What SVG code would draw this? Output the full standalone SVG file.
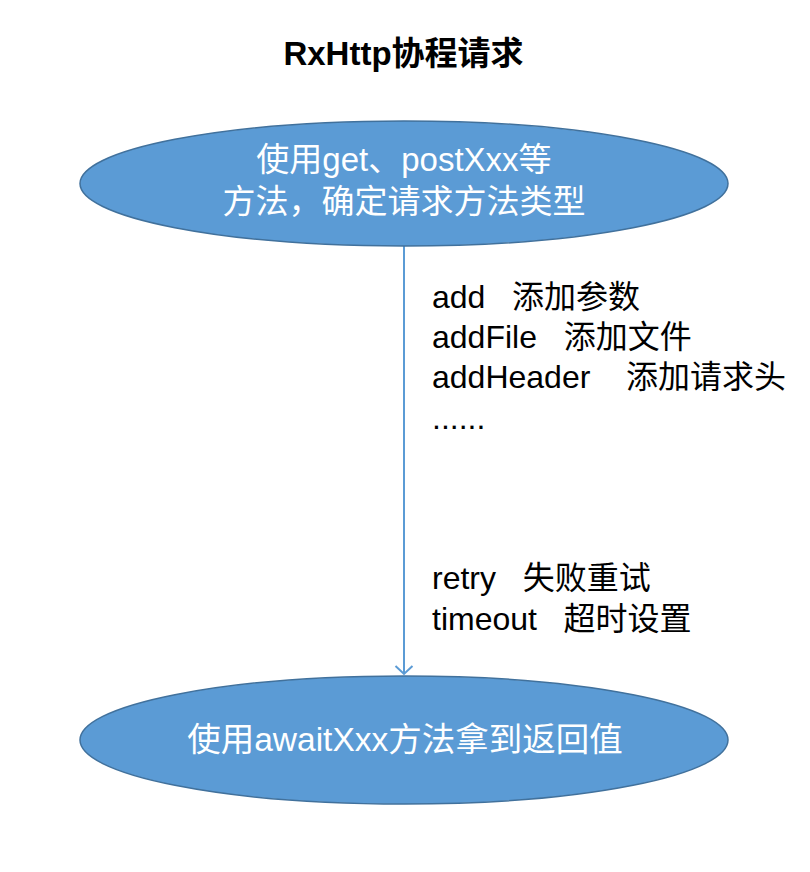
<svg xmlns="http://www.w3.org/2000/svg" width="810" height="872" viewBox="0 0 810 872">
<defs>
<style>
.node{fill:#5b9bd5;stroke:#41719c;stroke-width:1.5}
.nt{fill:#fff;font-family:"Liberation Sans","Noto Sans CJK SC",sans-serif;font-size:33px;text-anchor:middle}
.lbl{fill:#000;font-family:"Liberation Sans","Noto Sans CJK SC",sans-serif;font-size:32px;white-space:pre}
.title{fill:#000;font-family:"Liberation Sans","Noto Sans CJK SC",sans-serif;font-size:33px;font-weight:bold;text-anchor:middle}
.conn{stroke:#5b9bd5;stroke-width:2;fill:none}
</style>
<marker id="arr" markerWidth="20" markerHeight="20" refX="10" refY="10" orient="auto" markerUnits="userSpaceOnUse">
<path d="M2,1.5 L10,10 L2,18.5" fill="none" stroke="#5b9bd5" stroke-width="2"/>
</marker>
</defs>
<rect width="810" height="872" fill="#fff"/>
<text class="title" x="403.5" y="65">RxHttp协程请求</text>
<g id="connectors">
<line class="conn" x1="404" y1="246" x2="404" y2="674" marker-end="url(#arr)"/>
</g>
<g id="node-start">
<ellipse class="node" cx="404" cy="183.5" rx="324" ry="62.5"/>
<text class="nt" x="404" y="171">使用get、postXxx等</text>
<text class="nt" x="404" y="213">方法，确定请求方法类型</text>
</g>
<g id="node-end">
<ellipse class="node" cx="404" cy="740" rx="324" ry="64"/>
<text class="nt" x="405" y="751" style="font-size:33.5px">使用awaitXxx方法拿到返回值</text>
</g>
<g id="labels" xml:space="preserve">
<text class="lbl" x="432" y="308">add   添加参数</text>
<text class="lbl" x="432" y="348">addFile   添加文件</text>
<text class="lbl" x="432" y="388">addHeader    添加请求头</text>
<text class="lbl" x="432" y="429">......</text>
<text class="lbl" x="432" y="589">retry   失败重试</text>
<text class="lbl" x="432" y="630">timeout   超时设置</text>
</g>
</svg>
